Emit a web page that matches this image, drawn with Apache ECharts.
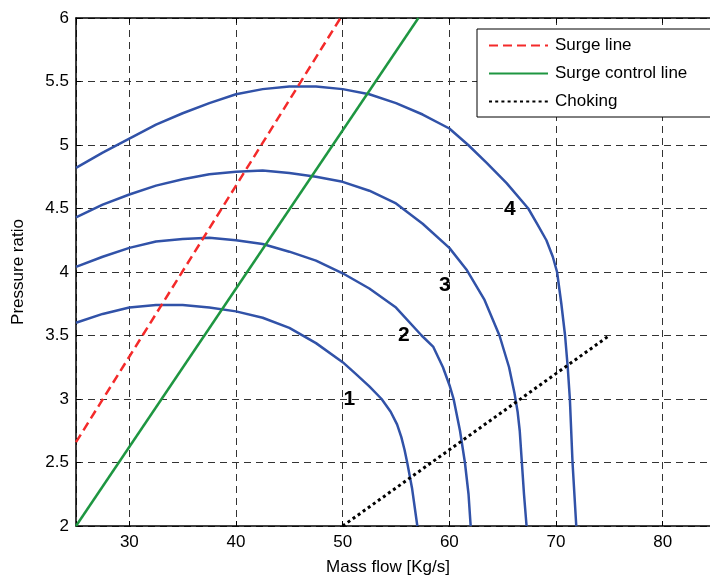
<!DOCTYPE html>
<html>
<head>
<meta charset="utf-8">
<script src="https://cdn.jsdelivr.net/npm/echarts@6/dist/echarts.min.js"></script>
<style>html,body{margin:0;padding:0;background:#fff}#c{width:710px;height:578px}</style>
</head>
<body>
<div id="c"></div>
<script>
// ---- data ----
const speed1X = [25, 27.5, 30, 32.5, 35, 37.5, 40, 42.5, 45, 47.5, 50, 51.2, 52.5, 53.65, 54.5, 55.1, 55.5, 55.8, 56.05, 56.5, 57.0];
const speed1Y = [3.60, 3.67, 3.72, 3.74, 3.74, 3.72, 3.69, 3.64, 3.56, 3.44, 3.29, 3.20, 3.10, 3.00, 2.90, 2.80, 2.70, 2.60, 2.50, 2.30, 2.00];

const speed2X = [25, 27.5, 30, 32.5, 35, 37.5, 40, 42.5, 45, 47.5, 50, 52.5, 55, 57.4, 58.5, 59.4, 60.05, 60.4, 61.0, 61.46, 61.8, 62.0];
const speed2Y = [4.04, 4.12, 4.19, 4.24, 4.26, 4.27, 4.25, 4.22, 4.16, 4.09, 3.99, 3.87, 3.72, 3.50, 3.41, 3.25, 3.10, 3.00, 2.75, 2.50, 2.25, 2.00];

const speed3X = [25, 27.5, 30, 32.5, 35, 37.5, 40, 42.5, 45, 47.5, 50, 52.5, 55, 57.5, 60, 61.6, 63.3, 64.7, 65.6, 66.1, 66.4, 66.6, 66.8, 67.0, 67.24];
const speed3Y = [4.43, 4.53, 4.61, 4.68, 4.73, 4.77, 4.79, 4.80, 4.78, 4.75, 4.71, 4.64, 4.54, 4.38, 4.19, 4.02, 3.78, 3.50, 3.25, 3.05, 2.90, 2.75, 2.50, 2.25, 2.00];

const speed4X = [25, 27.5, 30, 32.5, 35, 37.5, 40, 42.5, 45, 47.5, 50, 52.5, 55, 57.5, 60, 61.77, 63.5, 65.37, 67.4, 68.3, 69.1, 69.7, 70.1, 70.5, 70.85, 71.1, 71.3, 71.55, 71.9];
const speed4Y = [4.82, 4.94, 5.05, 5.16, 5.25, 5.33, 5.40, 5.44, 5.46, 5.46, 5.44, 5.40, 5.33, 5.24, 5.13, 5.00, 4.86, 4.70, 4.50, 4.37, 4.25, 4.12, 4.00, 3.75, 3.50, 3.25, 3.00, 2.50, 2.00];

const surgeX = [25, 49.8];
const surgeY = [2.66, 6.0];
const controlX = [25, 57.1];
const controlY = [2.0, 6.0];
const chokeX = [50, 75];
const chokeY = [2.0, 3.5];

const curveLabels = ['1', '2', '3', '4'];
const curveLabelX = [50.62, 55.74, 59.58, 65.68];
const curveLabelY = [3.0, 3.504, 3.898, 4.494];

const legendNames = ['Surge line', 'Surge control line', 'Choking'];
const xTickValues = [30, 40, 50, 60, 70, 80];

// ---- build ----
const zip = (xs, ys) => xs.map((x, i) => [x, ys[i]]);
const FONT = '"Liberation Sans", Arial, sans-serif';
const BLUE = '#3152A8';

const speedCurves = [[speed1X, speed1Y], [speed2X, speed2Y], [speed3X, speed3Y], [speed4X, speed4Y]];

const series = [];
speedCurves.forEach((c, i) => {
  series.push({
    name: 'Speed ' + (i + 1), type: 'line', data: zip(c[0], c[1]),
    symbol: 'none', smooth: false, silent: true,
    lineStyle: { color: BLUE, width: 2.5, join: 'round' }, z: 3
  });
});
series.push({
  name: legendNames[0], type: 'line', data: zip(surgeX, surgeY), symbol: 'none',
  itemStyle: { color: '#F42A2A' },
  lineStyle: { color: '#F42A2A', width: 2.5, type: [9, 5] }, z: 4
});
series.push({
  name: legendNames[1], type: 'line', data: zip(controlX, controlY), symbol: 'none',
  itemStyle: { color: '#1E9641' },
  lineStyle: { color: '#1E9641', width: 2.5 }, z: 4
});
series.push({
  name: legendNames[2], type: 'line', data: zip(chokeX, chokeY), symbol: 'none',
  itemStyle: { color: '#000' },
  lineStyle: { color: '#000', width: 3, type: [3, 3.2] }, z: 4
});
series.push({
  name: 'labels', type: 'scatter', symbolSize: 0, silent: true,
  itemStyle: { opacity: 1 },
  data: curveLabels.map((t, i) => ({ value: [curveLabelX[i], curveLabelY[i]], name: t })),
  label: {
    show: true, position: 'inside', formatter: p => p.name, opacity: 1,
    fontFamily: FONT, fontWeight: 'bold', fontSize: 21, color: '#000'
  }, z: 5
});

const chart = echarts.init(document.getElementById('c'), null, { renderer: 'canvas' });
chart.setOption({
  animation: false,
  backgroundColor: '#fff',
  grid: { left: 76, top: 18, width: 640, height: 508, containLabel: false, outerBoundsMode: 'none' },
  legend: {
    data: legendNames, orient: 'vertical', left: 477, top: 29,
    itemWidth: 59, itemHeight: 16, itemGap: 11,
    padding: [8, 40, 7, 11],
    backgroundColor: '#fff', borderColor: '#000', borderWidth: 1, borderRadius: 0,
    itemStyle: { color: 'rgba(0,0,0,0)', borderWidth: 0, opacity: 0 },
    textStyle: { fontFamily: FONT, fontSize: 17, color: '#000', padding: [0, 0, 0, 2] },
    selectedMode: false
  },
  xAxis: [{
    type: 'value', min: 25, max: 85, splitNumber: 6,
    name: 'Mass flow [Kg/s]', nameLocation: 'middle', nameGap: 33,
    nameTextStyle: { fontFamily: FONT, fontSize: 17, color: '#000', padding: [0, 16, 0, 0] },
    axisLine: { show: true, onZero: false, lineStyle: { color: '#000', width: 1.5 } },
    axisTick: { show: true, inside: true, length: 5, lineStyle: { color: '#000' } },
    axisLabel: {
      fontFamily: FONT, fontSize: 17, color: '#000', margin: 8,
      formatter: v => (xTickValues.indexOf(v) >= 0 ? String(v) : '')
    },
    splitLine: { show: true, lineStyle: { color: '#333', width: 1, type: [7, 5] } }
  }, {
    type: 'value', min: 25, max: 85, splitNumber: 6, position: 'top',
    axisLine: { show: true, onZero: false, lineStyle: { color: '#000', width: 1.5 } },
    axisTick: { show: true, inside: true, length: 5, lineStyle: { color: '#000' } },
    axisLabel: { show: false }, splitLine: { show: false }
  }],
  yAxis: [{
    type: 'value', min: 2, max: 6, interval: 0.5,
    name: 'Pressure ratio', nameLocation: 'middle', nameGap: 49,
    nameTextStyle: { fontFamily: FONT, fontSize: 17, color: '#000' },
    axisLine: { show: true, onZero: false, lineStyle: { color: '#000', width: 1.5 } },
    axisTick: { show: true, inside: true, length: 5, lineStyle: { color: '#000' } },
    axisLabel: { fontFamily: FONT, fontSize: 17, color: '#000', margin: 7 },
    splitLine: { show: true, lineStyle: { color: '#333', width: 1, type: [7, 5] } }
  }],
  series: series
});
</script>
</body>
</html>
